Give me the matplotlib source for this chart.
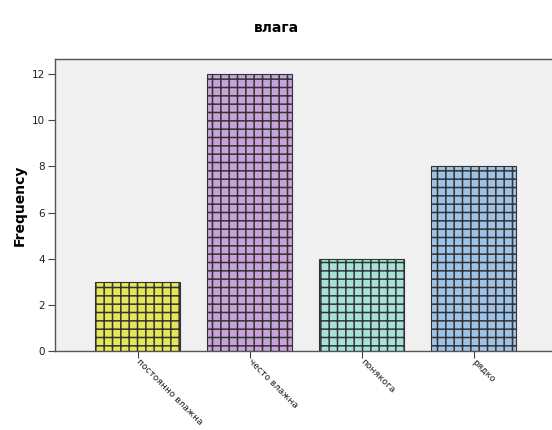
import matplotlib.pyplot as plt
import matplotlib as mpl

categories = ["постоянно влажна", "често влажна", "понякога", "рядко"]
counts = [3, 12, 4, 8]
colors = ["#e6e65a", "#c9a2dc", "#a6e2da", "#9fc3e6"]

mpl.rcParams["hatch.linewidth"] = 1.1
mpl.rcParams["hatch.color"] = "#2a2a2a"

fig = plt.figure(figsize=(5.52, 4.30), dpi=100)
ax = fig.add_axes([55 / 552, 79 / 430, 505 / 552, 292 / 430])
ax.set_facecolor("#f0f0f0")

x = list(range(len(categories)))
for xi, c, col in zip(x, counts, colors):
    ax.bar(xi, c, width=0.76, color=col, edgecolor="#333333", linewidth=0.8, hatch="++")

ax.set_xlim(-0.737, 3.772)
ax.set_ylim(0, 12.65)
ax.set_yticks([0, 2, 4, 6, 8, 10, 12])
ax.set_xticks(x)
ax.set_xticklabels(categories, rotation=-45, ha="left", va="center",
                   rotation_mode="anchor", fontsize=6.5, color="#222222")
ax.tick_params(axis="y", labelsize=7.5, length=5, color="#444444", labelcolor="#222222", pad=2)
ax.tick_params(axis="x", length=5, color="#444444", pad=2)
for s in ax.spines.values():
    s.set_color("#555555")
    s.set_linewidth(1.0)

ax.set_ylabel("Frequency", fontsize=10, fontweight="bold", labelpad=4)
fig.text(0.5, 1 - 28 / 430, "влага", ha="center", va="center",
         fontsize=10, fontweight="bold")

fig.savefig("out.png", dpi=100)
